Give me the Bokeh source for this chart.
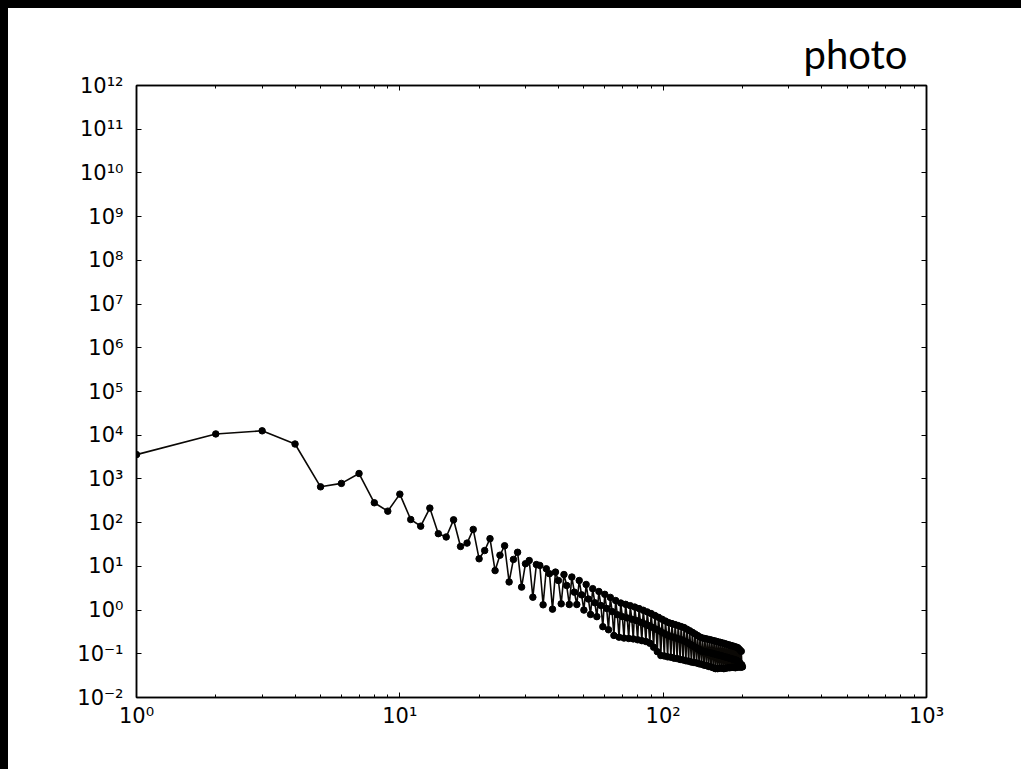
from bokeh.plotting import figure
from bokeh.models import LogAxis, FixedTicker, CustomJSTickFormatter, ColumnDataSource
from bokeh.embed import file_html
from bokeh.resources import INLINE

# ---- data ----
freq = list(range(1, 201))
power = [
    3600, 10700, 12600, 6300, 660, 790, 1330, 285, 183, 449,
    118, 83, 215, 56, 47, 116, 28.5, 34, 70, 14.9,
    23, 43, 8.0, 18, 29.6, 4.4, 14.4, 21, 3.35, 11.5,
    13.6, 1.97, 11.0, 10.5, 1.32, 8.8, 6.8, 1.05, 7.4, 4.75,
    1.39, 6.5, 3.66, 1.34, 5.7, 2.57, 1.34, 4.75, 2.23, 1.0,
    3.85, 1.79, 0.794, 3.09, 1.47, 0.708, 2.66, 1.27, 0.417, 2.29,
    1.09, 0.355, 1.95, 0.923, 0.263, 1.65, 0.783, 0.240, 1.45, 0.708,
    0.229, 1.35, 0.661, 0.224, 1.26, 0.617, 0.219, 1.17, 0.575, 0.209,
    1.08, 0.527, 0.200, 0.991, 0.483, 0.191, 0.908, 0.442, 0.174, 0.832,
    0.404, 0.141, 0.753, 0.366, 0.112, 0.682, 0.331, 0.0912, 0.618, 0.300,
    0.0891, 0.561, 0.272, 0.0851, 0.515, 0.254, 0.0832, 0.490, 0.241, 0.0794,
    0.465, 0.229, 0.0776, 0.442, 0.217, 0.0741, 0.419, 0.207, 0.0724, 0.398,
    0.194, 0.0692, 0.366, 0.179, 0.0676, 0.337, 0.164, 0.0646, 0.310, 0.151,
    0.0631, 0.285, 0.139, 0.0617, 0.262, 0.128, 0.0589, 0.241, 0.117, 0.0575,
    0.230, 0.114, 0.0550, 0.223, 0.111, 0.0537, 0.217, 0.108, 0.0513, 0.211,
    0.105, 0.0501, 0.205, 0.102, 0.0479, 0.199, 0.0986, 0.0457, 0.193, 0.0959,
    0.0457, 0.187, 0.0931, 0.0468, 0.182, 0.0904, 0.0468, 0.177, 0.0875, 0.0457,
    0.171, 0.0849, 0.0468, 0.166, 0.0824, 0.0479, 0.161, 0.0800, 0.0479, 0.156,
    0.0776, 0.0490, 0.152, 0.0752, 0.0490, 0.147, 0.0729, 0.0479, 0.143, 0.0708,
    0.0490, 0.138, 0.0670, 0.0501, 0.126, 0.0610, 0.0490, 0.114, 0.0555, 0.0501,
]
x_major = [1, 10, 100, 1000]
x_minor = [m * d for d in (1, 10, 100) for m in range(2, 10)]
y_major = [10.0 ** k for k in range(-2, 13)]
title_text = "photo"

src = ColumnDataSource(data=dict(x=freq, y=power))

p = figure(width=1013, height=761, x_axis_type="log", y_axis_type="log",
           x_range=(1, 1000), y_range=(1e-2, 1e12),
           output_backend="svg", toolbar_location=None,
           min_border_left=128, min_border_right=95,
           min_border_top=77, min_border_bottom=72)
p.background_fill_color = "white"
p.border_fill_color = "white"
p.outline_line_color = "black"
p.outline_line_width = 1.5
p.xgrid.visible = False
p.ygrid.visible = False

p.title.text = title_text
p.title.align = "right"
p.title.offset = 19
p.title.text_font = "Lato"
p.title.text_font_style = "normal"
p.title.text_font_size = "40px"
p.title.text_color = "black"
p.title.standoff = 16

fmt_code = """
const sup = {"0":"\u2070","1":"\u00b9","2":"\u00b2","3":"\u00b3","4":"\u2074",
             "5":"\u2075","6":"\u2076","7":"\u2077","8":"\u2078","9":"\u2079","-":"\u207b"};
const e = Math.round(Math.log10(tick));
return "10" + String(e).split("").map(c => sup[c]).join("");
"""
empty_code = "return '';"

def style_axis(ax, major, minor, labels=True):
    ax.ticker = FixedTicker(ticks=major, minor_ticks=minor)
    ax.formatter = CustomJSTickFormatter(code=fmt_code if labels else empty_code)
    ax.axis_line_color = "black"
    ax.axis_line_width = 1.5
    ax.major_tick_in = 5
    ax.major_tick_out = 0
    ax.minor_tick_in = 3
    ax.minor_tick_out = 0
    ax.major_tick_line_color = "black"
    ax.minor_tick_line_color = "black" if minor else None
    ax.major_label_text_font = "DejaVu Sans"
    ax.major_label_text_font_size = "21px"
    ax.major_label_text_color = "black"

style_axis(p.xaxis[0], x_major, x_minor)
p.xaxis[0].major_label_standoff = 6
style_axis(p.yaxis[0], y_major, [])
p.yaxis[0].major_label_standoff = 13

top = LogAxis()
style_axis(top, x_major, x_minor, labels=False)
top.major_label_standoff = 0
p.add_layout(top, "above")
right = LogAxis()
style_axis(right, y_major, [], labels=False)
p.add_layout(right, "right")

p.line("x", "y", source=src, line_color="#0a0805", line_width=1.6)
p.scatter("x", "y", source=src, size=6.5, fill_color="black", line_color="black")

html = file_html(p, INLINE)
html = html.replace("</head>",
    "<style>html{background:#fff}body{margin:0;padding:0;overflow:hidden;"
    "border-top:8px solid #000;border-left:8px solid #000;background:#fff}</style></head>", 1)
open("out.html", "w").write(html)
